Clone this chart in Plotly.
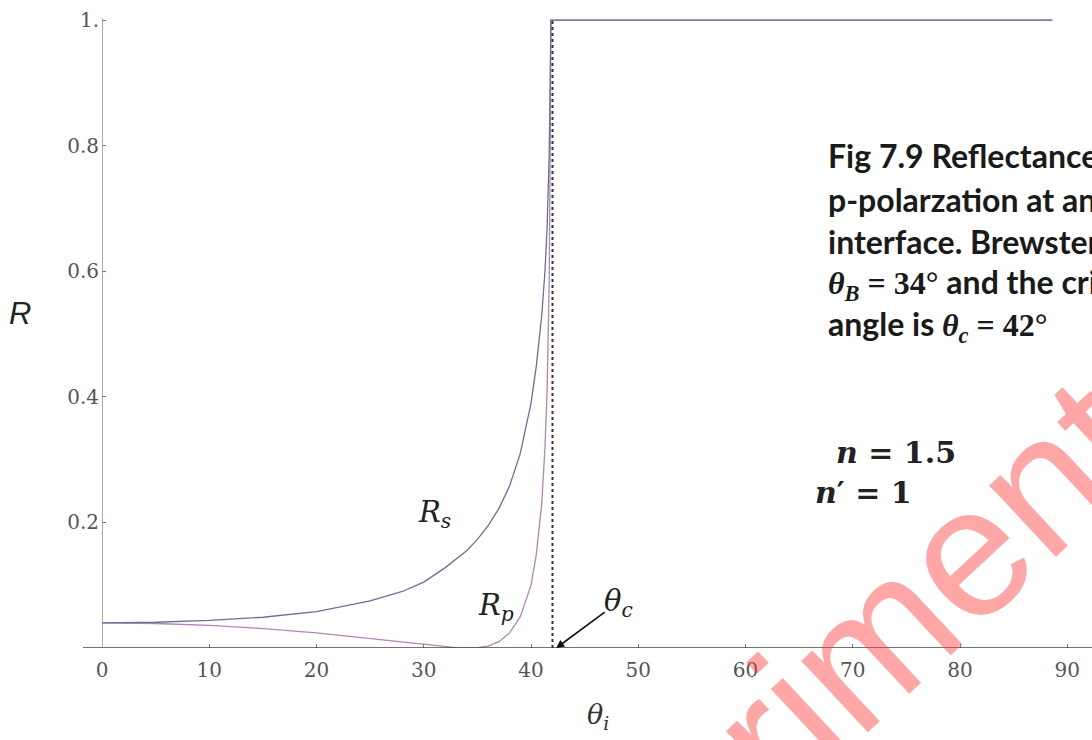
import plotly.graph_objects as go

# ---- data ----
theta_s = [0, 5, 10, 15, 20, 25, 28, 30, 32, 34, 35, 36, 37, 38, 39, 40, 40.5, 41, 41.3, 41.5, 41.7, 41.8, 41.85, 88.6]
R_s     = [0.040, 0.041, 0.044, 0.049, 0.058, 0.075, 0.090, 0.105, 0.128, 0.155, 0.173, 0.195, 0.222, 0.258, 0.310, 0.390, 0.450, 0.530, 0.600, 0.670, 0.790, 0.910, 1.0, 1.0]

theta_p = [0, 5, 10, 15, 20, 25, 28, 30, 32, 33, 34, 35, 36, 37, 38, 39, 40, 40.5, 41, 41.3, 41.5, 41.7, 41.8, 41.85, 88.6]
R_p     = [0.040, 0.039, 0.036, 0.031, 0.024, 0.015, 0.009, 0.005, 0.002, 0.0006, 0.0, 0.0005, 0.003, 0.010, 0.024, 0.050, 0.100, 0.150, 0.230, 0.320, 0.410, 0.590, 0.830, 1.0, 1.0]

theta_c = 42
x_ticks = [0, 10, 20, 30, 40, 50, 60, 70, 80, 90]
y_ticks = [0.2, 0.4, 0.6, 0.8, 1.0]
y_ticktext = ["0.2", "0.4", "0.6", "0.8", "1."]

MATH = "font-family:Liberation Serif"
caption_lines = [
    "Fig 7.9 Reflectance of s- and",
    "p-polarzation at an glass-air",
    "interface. Brewster angle is",
    f"<span style='{MATH}'><i>θ</i><sub><i>B</i></sub> = 34°</span> and the critical",
    f"angle is <span style='{MATH}'><i>θ</i><sub><i>c</i></sub> = 42°</span>",
]

# ---- layout geometry (pixels) ----
W, H = 1092, 740
L, R_, T, B = 102, 0, 0, 92
PW, PH = W - L - R_, H - T - B


def fx(px):
    return (px - L) / PW


def fy(py):
    return (H - B - py) / PH


fig = go.Figure()
fig.add_trace(go.Scatter(x=theta_p, y=R_p, mode="lines",
                         line=dict(color="rgb(175,135,180)", width=1.3), showlegend=False))
fig.add_trace(go.Scatter(x=theta_s, y=R_s, mode="lines",
                         line=dict(color="rgb(110,110,150)", width=1.3), showlegend=False))

serif = "DejaVu Serif"
fig.update_layout(
    width=W, height=H,
    margin=dict(l=L, r=R_, t=T, b=B),
    plot_bgcolor="white", paper_bgcolor="white",
    xaxis=dict(range=[0, 92.3], tickvals=x_ticks, showgrid=False, zeroline=False,
               showline=False, ticks="inside", ticklen=4, tickcolor="#777",
               tickfont=dict(family=serif, size=20, color="#555"), ticklabelstandoff=8),
    yaxis=dict(range=[0, 1.032], tickvals=y_ticks, ticktext=y_ticktext, showgrid=False,
               zeroline=False, showline=False, ticks="inside", ticklen=4, tickcolor="#777",
               tickfont=dict(family=serif, size=20, color="#555"), ticklabelstandoff=2),
)

shapes = [
    dict(type="line", xref="paper", yref="y", x0=fx(83), x1=1.0, y0=0, y1=0,
         line=dict(color="#444", width=1.6)),
    dict(type="line", xref="x", yref="paper", x0=0, x1=0, y0=0, y1=fy(18),
         line=dict(color="#888", width=1.4)),
    dict(type="line", xref="x", yref="y", x0=theta_c, x1=theta_c, y0=0, y1=1.0,
         line=dict(color="#333", width=2, dash="dot")),
]
fig.update_layout(shapes=shapes)

ann = []
# watermark (drawn first so text lies above it)
ann.append(dict(xref="paper", yref="paper", x=fx(815), y=fy(694), text="experiments",
                showarrow=False, textangle=-43,
                font=dict(family="Liberation Sans", size=185, color="rgba(255,60,60,0.45)"),
                xanchor="center", yanchor="middle"))
# axis titles
ann.append(dict(xref="paper", yref="paper", x=fx(20), y=fy(313), text="<i>R</i>", showarrow=False,
                font=dict(family="Liberation Sans", size=31, color="#222"), xanchor="center", yanchor="middle"))
ann.append(dict(xref="paper", yref="paper", x=fx(585), y=fy(716), text="<i>θ</i><sub><i>i</i></sub>",
                showarrow=False, font=dict(family=serif, size=27, color="#333"),
                xanchor="left", yanchor="middle"))
# curve labels
ann.append(dict(xref="paper", yref="paper", x=fx(416), y=fy(514), text="<i>R</i><sub><i>s</i></sub>",
                showarrow=False, font=dict(family=serif, size=29, color="#222"),
                xanchor="left", yanchor="middle"))
ann.append(dict(xref="paper", yref="paper", x=fx(476), y=fy(607), text="<i>R</i><sub><i>p</i></sub>",
                showarrow=False, font=dict(family=serif, size=29, color="#222"),
                xanchor="left", yanchor="middle"))
ann.append(dict(xref="paper", yref="paper", x=fx(602), y=fy(603), text="<i>θ</i><sub><i>c</i></sub>",
                showarrow=False, font=dict(family=serif, size=29, color="#222"),
                xanchor="left", yanchor="middle"))
# arrow to critical angle
ann.append(dict(xref="x", yref="y", x=theta_c + 0.35, y=0, text="", showarrow=True,
                ax=50, ay=-37, arrowhead=2, arrowsize=1.0, arrowwidth=1.6, arrowcolor="#111",
                standoff=0, startstandoff=0))
# caption
cap_y = [156, 199, 241, 284, 326]
for line, py in zip(caption_lines, cap_y):
    ann.append(dict(xref="paper", yref="paper", x=fx(826), y=fy(py), text="<b>" + line + "</b>",
                    showarrow=False, font=dict(family="Lato", size=32, color="#1a1a1a"),
                    xanchor="left", yanchor="middle"))
ann.append(dict(xref="paper", yref="paper", x=fx(834), y=fy(452), text="<b><i>n</i> = 1.5</b>",
                showarrow=False, font=dict(family=serif, size=30, color="#222"),
                xanchor="left", yanchor="middle"))
ann.append(dict(xref="paper", yref="paper", x=fx(813), y=fy(492), text="<b><i>n</i>′ = 1</b>",
                showarrow=False, font=dict(family=serif, size=30, color="#222"),
                xanchor="left", yanchor="middle"))
fig.update_layout(annotations=ann)

fig.write_html("out.html", config={"displayModeBar": False},
               post_script="document.body.style.margin='0px';document.body.style.padding='0px';")
